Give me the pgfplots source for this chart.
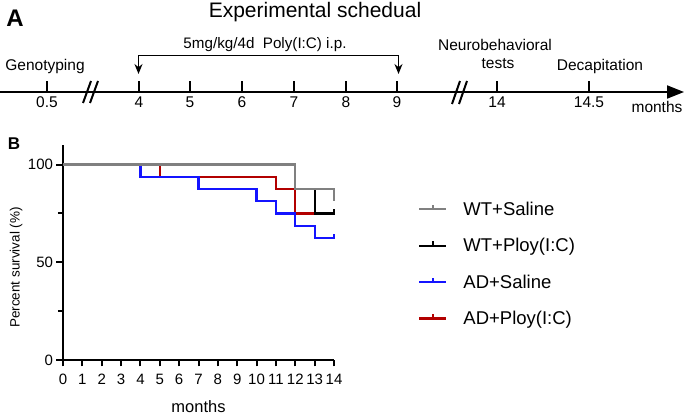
\documentclass[border=0pt]{standalone}
\usepackage{fontspec}
\setmainfont{Liberation Sans}
\usepackage{pgfplots}
\pgfplotsset{compat=1.18}
\usetikzlibrary{arrows.meta}
\definecolor{cgray}{RGB}{128,128,128}
\definecolor{cblue}{RGB}{20,20,255}
\definecolor{cred}{RGB}{178,0,0}
\newcommand{\fsz}[1]{\fontsize{#1}{#1}\selectfont}
\begin{document}
\begin{tikzpicture}
\path[use as bounding box] (0,0) rectangle (685pt,414pt);
\begin{scope}[shift={(0pt,414pt)},x=1pt,y=-1pt]
  % panel labels and title
  \node[font=\fsz{24}\bfseries, inner sep=0] at (15,18) {A};
  \node[font=\fsz{17}\bfseries, inner sep=0] at (14,143.5) {B};
  \node[font=\fsz{21}, inner sep=0] at (315,12) {Experimental schedual};
  % timeline
  \draw[line width=2pt,-{Triangle[length=17pt,width=13pt]}] (0,92) -- (684,92);
  \foreach \xx in {47,139,190,242,294,346,397,497,589}
    \draw[line width=2pt] (\xx,92) -- (\xx,81);
  \draw[line width=2pt] (83,103) -- (91,81);
  \draw[line width=2pt] (90,103) -- (98,81);
  \draw[line width=2pt] (452,104) -- (460,81);
  \draw[line width=2pt] (459,104) -- (467,81);
  \foreach \xx/\lab in {47/0.5,139/4,190/5,242/6,294/7,346/8,397/9,497/14,589/14.5}
    \node[font=\fsz{15.5}, inner sep=0] at (\xx,102.5) {\lab};
  \node[font=\fsz{15.5}, inner sep=0] at (657,107) {months};
  \node[font=\fsz{15.5}, inner sep=0] at (45,67) {Genotyping};
  \node[font=\fsz{15.5}, inner sep=0] at (495,45) {Neurobehavioral};
  \node[font=\fsz{15.5}, inner sep=0] at (498,64) {tests};
  \node[font=\fsz{15.5}, inner sep=0] at (600,67) {Decapitation};
  % bracket
  \draw[line width=1pt,{Stealth[length=10pt,width=8pt]}-{Stealth[length=10pt,width=8pt]}]
    (138.5,74) -- (138.5,56) -- (398.5,56) -- (398.5,74);
  \node[font=\fsz{15.2}, inner sep=0] at (265,45) {5mg/kg/4d\ \ Poly(I:C) i.p.};
\end{scope}
\begin{axis}[
  at={(63pt,54pt)}, anchor=south west, scale only axis,
  width=271pt, height=215pt,
  xmin=0, xmax=14, ymin=0, ymax=110,
  clip=false,
  axis lines*=left,
  axis line style={line width=2.3pt},
  xtick={0,...,14}, ytick={0,50,100}, minor ytick={25,75},
  tick align=outside, major tick length=6.5pt, minor tick length=5pt,
  tick style={line width=2pt, black},
  ticklabel style={font=\fsz{15}},
  xticklabel style={yshift=-4pt},
  /pgf/number format/assume math mode=true,
  xlabel={months}, ylabel={Percent survival (\%)},
  xlabel style={font=\fsz{16.5}, at={(axis description cs:0.5,-0.2419)}, anchor=base},
  ylabel style={font=\fsz{13.5}, at={(axis description cs:-0.1734,0.43)}, anchor=center},
  legend style={at={(axis description cs:1.299,0.755)}, anchor=north west,
    draw=none, fill=none, font=\fsz{18.5}, row sep=17.5pt,
    /tikz/every odd column/.append style={column sep=14pt}},
  legend cell align=left,
  reverse legend,
  legend image code/.code={
    \draw[#1, line width=2.2pt] (0pt,0pt) -- (27pt,0pt);
    \draw[#1, line width=1.8pt] (13.5pt,0pt) -- (13.5pt,4.5pt);
  },
]
\addplot[cred, line width=2.2pt] coordinates {
  (0,100) (5,100) (5,93.75) (11,93.75) (11,87.5) (12,87.5) (12,75) (14,75)};
\addlegendentry{AD+Ploy(I:C)}
\addplot[cblue, line width=2.2pt] coordinates {
  (0,100) (4,100) (4,93.75) (7,93.75) (7,87.5) (10,87.5) (10,81.25) (11,81.25)
  (11,75) (12,75) (12,68.75) (13,68.75) (13,62.5) (14,62.5) (14,64.5)};
\addlegendentry{AD+Saline}
\addplot[black, line width=2.2pt] coordinates {
  (0,100) (12,100) (12,87.5) (13,87.5) (13,75) (14,75) (14,77)};
\addlegendentry{WT+Ploy(I:C)}
\addplot[cgray, line width=2.2pt] coordinates {
  (0,100) (12,100) (12,87.5) (14,87.5) (14,81.25)};
\addlegendentry{WT+Saline}
\end{axis}
\end{tikzpicture}
\end{document}
